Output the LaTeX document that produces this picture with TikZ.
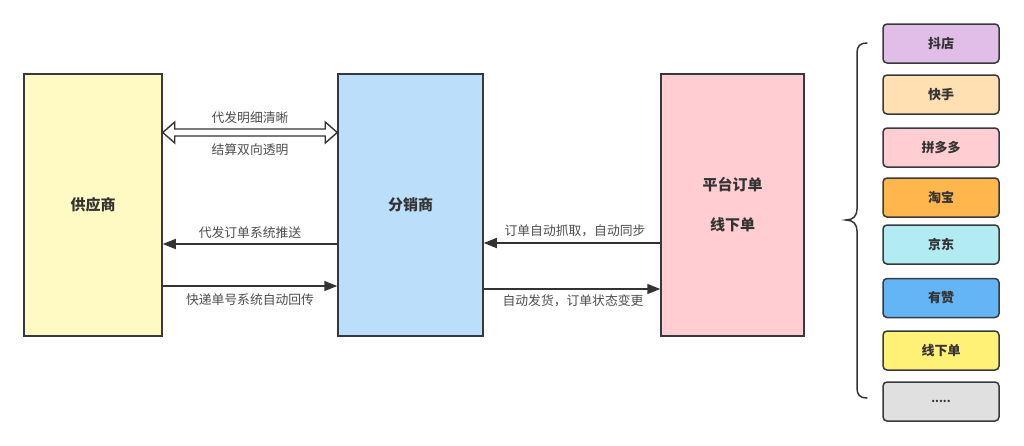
\documentclass[tikz,border=0pt]{standalone}
\usepackage{fontspec}
\setmainfont{Noto Sans CJK SC}
\usetikzlibrary{calc,arrows.meta}
\definecolor{edge}{HTML}{36393D}
\definecolor{txt}{HTML}{333333}
\definecolor{ltxt}{HTML}{4D4D4D}
\definecolor{cYellow}{HTML}{FFF9C4}
\definecolor{cBlue}{HTML}{BBDEFB}
\definecolor{cPink}{HTML}{FFCDD2}
\definecolor{cLav}{HTML}{E1BEE7}
\definecolor{cPeach}{HTML}{FFE0B2}
\definecolor{cOrange}{HTML}{FFB74D}
\definecolor{cCyan}{HTML}{B2EBF2}
\definecolor{cMid}{HTML}{64B5F6}
\definecolor{cLemon}{HTML}{FFF176}
\definecolor{cGray}{HTML}{E0E0E0}
\tikzset{
  mainbox/.style={draw=edge, line width=1.5pt, minimum height=262pt, text=txt,
    font=\fontsize{15}{18}\selectfont\bfseries, align=center, inner sep=0pt},
  platbox/.style={draw=edge, line width=1.5pt, rounded corners=4pt, minimum width=116pt,
    minimum height=39pt, text=txt, font=\fontsize{13}{15}\selectfont\bfseries, inner sep=0pt},
  flow/.style={draw=txt, line width=1.6pt, -{Triangle[length=13pt,width=10pt]}},
  lbl/.style={text=ltxt, font=\fontsize{12.8}{15}\selectfont, inner sep=0pt},
  brace/.style={draw=txt, line width=1.5pt, line cap=round}
}
\begin{document}
\begin{tikzpicture}[x=1pt,y=-1pt]
\useasboundingbox[fill=white] (0,0) rectangle (1024,445);

% main boxes
\node[mainbox, fill=cYellow, minimum width=138pt] (sup) at (93,205) {供应商};
\node[mainbox, fill=cBlue, minimum width=145pt] (dis) at (410.5,205) {分销商};
\node[mainbox, fill=cPink, minimum width=143pt] (plat) at (732.5,205) {平台订单\\[22pt]线下单};

\coordinate (m1) at ($(sup.east)!0.5!(dis.west)$);
\coordinate (m2) at ($(dis.east)!0.5!(plat.west)$);

% hollow double arrow
\coordinate (L) at (sup.east |- 0,132.5);
\coordinate (R) at (dis.west |- 0,132.5);
\draw[draw=txt, fill=white, line width=1.4pt, line join=miter]
  (L) -- ($(L)+(12,-10.5)$) -- ($(L)+(12,-3.5)$) -- ($(R)+(-12,-3.5)$) -- ($(R)+(-12,-10.5)$)
  -- (R) -- ($(R)+(-12,10.5)$) -- ($(R)+(-12,3.5)$) -- ($(L)+(12,3.5)$) -- ($(L)+(12,10.5)$) -- cycle;
\node[lbl] (l1) at (m1 |- 0,118) {代发明细清晰};
\node[lbl] (l2) at (m1 |- 0,150) {结算双向透明};

% supplier <-> distributor
\draw[flow] (dis.west |- 0,244) -- (sup.east |- 0,244);
\node[lbl] (l3) at (m1 |- 0,233) {代发订单系统推送};
\draw[flow] (sup.east |- 0,286) -- (dis.west |- 0,286);
\node[lbl] (l4) at (m1 |- 0,300) {快递单号系统自动回传};

% distributor <-> platform
\draw[flow] (plat.west |- 0,243) -- (dis.east |- 0,243);
\node[lbl] (l5) at ($(m2 |- 0,231)+(3,0)$) {订单自动抓取，自动同步};
\draw[flow] (dis.east |- 0,289) -- (plat.west |- 0,289);
\node[lbl] (l6) at ($(m2 |- 0,301)+(1,0)$) {自动发货，订单状态变更};

% platform list
\node[platbox, fill=cLav]    (p1) at (941,43.5)  {抖店};
\node[platbox, fill=cPeach]  (p2) at (941,94.5)  {快手};
\node[platbox, fill=cPink]   (p3) at (941,147.5) {拼多多};
\node[platbox, fill=cOrange] (p4) at (941,197.5) {淘宝};
\node[platbox, fill=cCyan]   (p5) at (941,244.5) {京东};
\node[platbox, fill=cMid]    (p6) at (941,298)   {有赞};
\node[platbox, fill=cLemon]  (p7) at (941,350.5) {线下单};
\node[platbox, fill=cGray, font=\fontsize{11}{13}\selectfont\bfseries] (p8) at (941,401.5) {.....};

% brace
\draw[brace] (867,43) .. controls (860,43) and (857,46) .. (857,53) -- (857,209)
  .. controls (857,216) and (853,220) .. (846,220)
  .. controls (853,220) and (857,224) .. (857,231) -- (857,388)
  .. controls (857,395) and (860,398) .. (867,398);
\end{tikzpicture}
\end{document}
